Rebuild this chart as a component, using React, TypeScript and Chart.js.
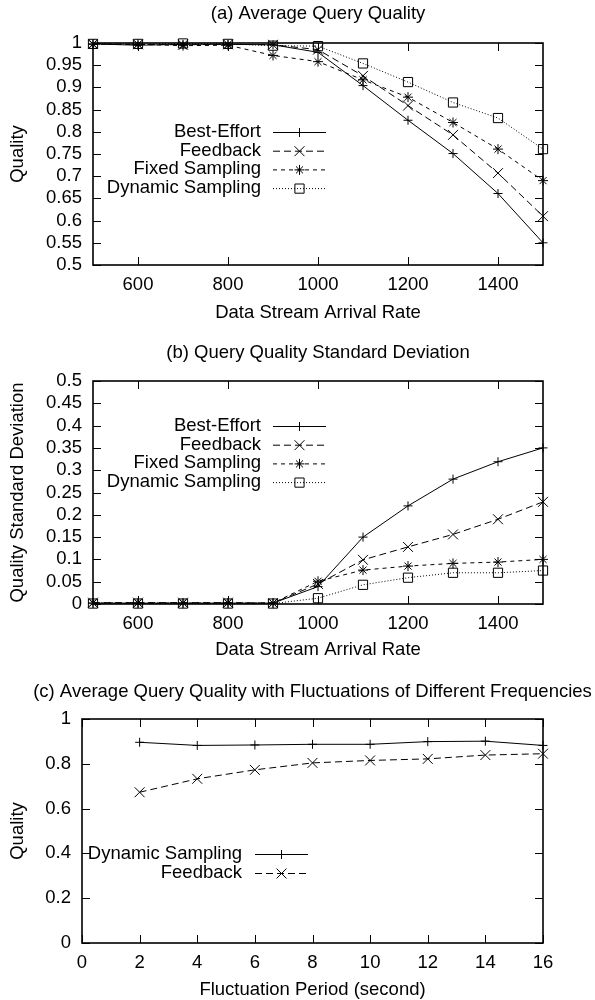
import React, { useEffect, useRef } from "react";
import { Chart, registerables } from "chart.js";
import { drawPoint } from "chart.js/helpers";

Chart.register(...registerables);

const FONT = "'Liberation Sans', Arial, Helvetica, sans-serif";
const FONT_SIZE = 18.5;

// ---------- data ----------
const arrivalRates = [500, 600, 700, 800, 900, 1000, 1100, 1200, 1300, 1400, 1500];

const qualityBestEffort = [0.998, 0.995, 0.997, 0.997, 0.996, 0.979, 0.904, 0.826, 0.751, 0.661, 0.55];
const qualityFeedback = [0.998, 0.997, 0.996, 0.997, 0.996, 0.985, 0.926, 0.859, 0.793, 0.707, 0.61];
const qualityFixedSampling = [0.997, 0.997, 0.994, 0.995, 0.972, 0.958, 0.917, 0.878, 0.821, 0.761, 0.69];
const qualityDynamicSampling = [0.998, 0.998, 0.999, 0.998, 0.994, 0.993, 0.954, 0.912, 0.866, 0.831, 0.761];

const stdBestEffort = [0.002, 0.002, 0.002, 0.002, 0.002, 0.039, 0.15, 0.22, 0.28, 0.319, 0.35];
const stdFeedback = [0.003, 0.003, 0.003, 0.003, 0.002, 0.045, 0.099, 0.128, 0.156, 0.19, 0.229];
const stdFixedSampling = [0.002, 0.002, 0.002, 0.002, 0.002, 0.051, 0.076, 0.085, 0.091, 0.094, 0.1];
const stdDynamicSampling = [0.001, 0.001, 0.001, 0.001, 0.001, 0.013, 0.043, 0.059, 0.07, 0.07, 0.075];

const fluctuationPeriods = [2, 4, 6, 8, 10, 12, 14, 16];
const fluctDynamicSampling = [0.896, 0.882, 0.884, 0.887, 0.887, 0.899, 0.901, 0.882];
const fluctFeedback = [0.673, 0.733, 0.773, 0.804, 0.815, 0.822, 0.839, 0.845];

// ---------- ticks ----------
const rateTicks = [600, 800, 1000, 1200, 1400];
const rateTickLabels = ["600", "800", "1000", "1200", "1400"];
const qualityTicks = [0.5, 0.55, 0.6, 0.65, 0.7, 0.75, 0.8, 0.85, 0.9, 0.95, 1];
const qualityTickLabels = ["0.5", "0.55", "0.6", "0.65", "0.7", "0.75", "0.8", "0.85", "0.9", "0.95", "1"];
const stdTicks = [0, 0.05, 0.1, 0.15, 0.2, 0.25, 0.3, 0.35, 0.4, 0.45, 0.5];
const stdTickLabels = ["0", "0.05", "0.1", "0.15", "0.2", "0.25", "0.3", "0.35", "0.4", "0.45", "0.5"];
const periodTicks = [0, 2, 4, 6, 8, 10, 12, 14, 16];
const periodTickLabels = ["0", "2", "4", "6", "8", "10", "12", "14", "16"];
const fractionTicks = [0, 0.2, 0.4, 0.6, 0.8, 1];
const fractionTickLabels = ["0", "0.2", "0.4", "0.6", "0.8", "1"];

// ---------- styles ----------
const STYLE_PLUS = { dash: [] as number[], point: "cross", r: 4.5 };
const STYLE_X = { dash: [7, 4], point: "crossRot", r: 7 };
const STYLE_STAR = { dash: [4, 4], point: "star", r: 5 };
const STYLE_BOX = { dash: [1, 2], point: "rect", r: 6.5 };

function series(label: string, xs: number[], ys: number[], st: any) {
  return {
    label,
    data: xs.map((x, i) => ({ x, y: ys[i] })),
    borderColor: "#000",
    borderWidth: 1,
    borderDash: st.dash,
    pointStyle: st.point,
    pointRadius: st.r,
    pointBorderWidth: 1,
    pointBorderColor: "#000",
    pointBackgroundColor: "rgba(0,0,0,0)",
    backgroundColor: "rgba(0,0,0,0)",
    fill: false,
    tension: 0,
    clip: false,
  };
}

const framePlugin = {
  id: "gpFrame",
  afterDraw(chart: any, _args: any, opts: any) {
    const { ctx, chartArea: a, scales } = chart;
    const xs = scales.x;
    const ys = scales.y;
    ctx.save();
    ctx.strokeStyle = "#000";
    ctx.setLineDash([]);
    ctx.lineWidth = 1;
    ctx.beginPath();
    for (const v of opts.xTicks) {
      const px = Math.round(xs.getPixelForValue(v)) + 0.5;
      ctx.moveTo(px, a.bottom);
      ctx.lineTo(px, a.bottom - 8);
      ctx.moveTo(px, a.top);
      ctx.lineTo(px, a.top + 8);
    }
    for (const v of opts.yTicks) {
      const py = Math.round(ys.getPixelForValue(v)) + 0.5;
      ctx.moveTo(a.left, py);
      ctx.lineTo(a.left + 8, py);
      ctx.moveTo(a.right, py);
      ctx.lineTo(a.right - 8, py);
    }
    ctx.stroke();
    ctx.lineWidth = 1.6;
    ctx.strokeRect(a.left, a.top, a.right - a.left, a.bottom - a.top);

    // title
    ctx.fillStyle = "#000";
    ctx.font = `${FONT_SIZE}px ${FONT}`;
    ctx.textAlign = "center";
    ctx.textBaseline = "middle";
    ctx.fillText(opts.title, (a.left + a.right) / 2, opts.titleY);

    // legend (gnuplot style: text then sample)
    const lg = opts.legend;
    chart.data.datasets.forEach((ds: any, i: number) => {
      const y = lg.y0 + i * lg.step;
      ctx.fillStyle = "#000";
      ctx.textAlign = "right";
      ctx.textBaseline = "middle";
      ctx.fillText(ds.label, lg.textRight, y);
      ctx.lineWidth = 1;
      ctx.strokeStyle = "#000";
      ctx.setLineDash(ds.borderDash || []);
      ctx.beginPath();
      ctx.moveTo(lg.x1, y + 0.5);
      ctx.lineTo(lg.x2, y + 0.5);
      ctx.stroke();
      ctx.setLineDash([]);
      ctx.fillStyle = "rgba(0,0,0,0)";
      drawPoint(ctx, { pointStyle: ds.pointStyle, radius: ds.pointRadius, rotation: 0, borderWidth: 1 } as any, (lg.x1 + lg.x2) / 2, y + 0.5);
    });
    ctx.restore();
  },
};

type Cfg = {
  height: number;
  title: string;
  titleY: number;
  top: number;
  bottom: number;
  left: number;
  xMin: number;
  xMax: number;
  xTicks: number[];
  xLabels: string[];
  yMin: number;
  yMax: number;
  yTicks: number[];
  yLabels: string[];
  xTitle: string;
  yTitle: string;
  xTitleOffset: number;
  legend: { textRight: number; x1: number; x2: number; y0: number; step: number };
  datasets: any[];
};

function makeConfig(c: Cfg): any {
  const tickFont = { family: FONT, size: FONT_SIZE, lineHeight: 1 };
  return {
    type: "line",
    data: { datasets: c.datasets },
    plugins: [framePlugin],
    options: {
      animation: false,
      responsive: false,
      devicePixelRatio: 1,
      events: [],
      layout: { padding: { top: c.top, right: 52, left: 0, bottom: 0 } },
      plugins: {
        legend: { display: false },
        tooltip: { enabled: false },
        title: { display: false },
        gpFrame: { xTicks: c.xTicks, yTicks: c.yTicks, title: c.title, titleY: c.titleY, legend: c.legend },
      },
      scales: {
        x: {
          type: "linear",
          min: c.xMin,
          max: c.xMax,
          afterBuildTicks: (s: any) => {
            s.ticks = c.xTicks.map((v) => ({ value: v }));
          },
          afterFit: (s: any) => {
            s.height = c.height - c.bottom;
          },
          grid: { display: false, drawTicks: false },
          border: { display: false },
          ticks: {
            color: "#000",
            font: tickFont,
            padding: 11,
            maxRotation: 0,
            autoSkip: false,
            callback: (_v: any, i: number) => c.xLabels[i],
          },
          title: {
            display: true,
            text: c.xTitle,
            color: "#000",
            font: tickFont,
            padding: { top: 0, bottom: c.xTitleOffset - FONT_SIZE / 2 },
          },
        },
        y: {
          type: "linear",
          min: c.yMin,
          max: c.yMax,
          afterBuildTicks: (s: any) => {
            s.ticks = c.yTicks.map((v) => ({ value: v }));
          },
          afterFit: (s: any) => {
            s.width = c.left;
          },
          grid: { display: false, drawTicks: false },
          border: { display: false },
          ticks: {
            color: "#000",
            font: tickFont,
            padding: 11,
            autoSkip: false,
            callback: (_v: any, i: number) => c.yLabels[i],
          },
          title: {
            display: true,
            text: c.yTitle,
            color: "#000",
            font: tickFont,
            padding: { top: 18 - FONT_SIZE / 2, bottom: 0 },
          },
        },
      },
    },
  };
}

function GpChart({ cfg, offsetTop }: { cfg: Cfg; offsetTop: number }) {
  const ref = useRef<HTMLCanvasElement>(null);
  useEffect(() => {
    if (!ref.current) return;
    const chart = new Chart(ref.current, makeConfig(cfg));
    return () => chart.destroy();
  }, []);
  return (
    <canvas
      ref={ref}
      width={595}
      height={cfg.height}
      style={{ position: "absolute", left: 0, top: offsetTop, width: 595, height: cfg.height, display: "block" }}
    />
  );
}

const chartA: Cfg = {
  height: 330,
  title: "(a) Average Query Quality",
  titleY: 14,
  top: 43,
  bottom: 265,
  left: 93,
  xMin: 500,
  xMax: 1500,
  xTicks: rateTicks,
  xLabels: rateTickLabels,
  yMin: 0.5,
  yMax: 1,
  yTicks: qualityTicks,
  yLabels: qualityTickLabels,
  xTitle: "Data Stream Arrival Rate",
  yTitle: "Quality",
  xTitleOffset: 17,
  legend: { textRight: 261, x1: 273, x2: 326, y0: 132, step: 18.7 },
  datasets: [
    series("Best-Effort", arrivalRates, qualityBestEffort, STYLE_PLUS),
    series("Feedback", arrivalRates, qualityFeedback, STYLE_X),
    series("Fixed Sampling", arrivalRates, qualityFixedSampling, STYLE_STAR),
    series("Dynamic Sampling", arrivalRates, qualityDynamicSampling, STYLE_BOX),
  ],
};

const chartB: Cfg = {
  height: 340,
  title: "(b) Query Quality Standard Deviation",
  titleY: 23,
  top: 51,
  bottom: 274,
  left: 93,
  xMin: 500,
  xMax: 1500,
  xTicks: rateTicks,
  xLabels: rateTickLabels,
  yMin: 0,
  yMax: 0.5,
  yTicks: stdTicks,
  yLabels: stdTickLabels,
  xTitle: "Data Stream Arrival Rate",
  yTitle: "Quality Standard Deviation",
  xTitleOffset: 20,
  legend: { textRight: 261, x1: 273, x2: 326, y0: 96, step: 18.7 },
  datasets: [
    series("Best-Effort", arrivalRates, stdBestEffort, STYLE_PLUS),
    series("Feedback", arrivalRates, stdFeedback, STYLE_X),
    series("Fixed Sampling", arrivalRates, stdFixedSampling, STYLE_STAR),
    series("Dynamic Sampling", arrivalRates, stdDynamicSampling, STYLE_BOX),
  ],
};

const chartC: Cfg = {
  height: 330,
  title: "(c) Average Query Quality with Fluctuations of Different Frequencies",
  titleY: 22,
  top: 49,
  bottom: 273,
  left: 82,
  xMin: 0,
  xMax: 16,
  xTicks: periodTicks,
  xLabels: periodTickLabels,
  yMin: 0,
  yMax: 1,
  yTicks: fractionTicks,
  yLabels: fractionTickLabels,
  xTitle: "Fluctuation Period (second)",
  yTitle: "Quality",
  xTitleOffset: 10,
  legend: { textRight: 242, x1: 255, x2: 308, y0: 184, step: 19 },
  datasets: [
    series("Dynamic Sampling", fluctuationPeriods, fluctDynamicSampling, STYLE_PLUS),
    series("Feedback", fluctuationPeriods, fluctFeedback, STYLE_X),
  ],
};

export default function App() {
  return (
    <div style={{ position: "absolute", left: 0, top: 0, width: 595, height: 1000, background: "#fff", overflow: "hidden" }}>
      <GpChart cfg={chartA} offsetTop={0} />
      <GpChart cfg={chartB} offsetTop={330} />
      <GpChart cfg={chartC} offsetTop={670} />
    </div>
  );
}
